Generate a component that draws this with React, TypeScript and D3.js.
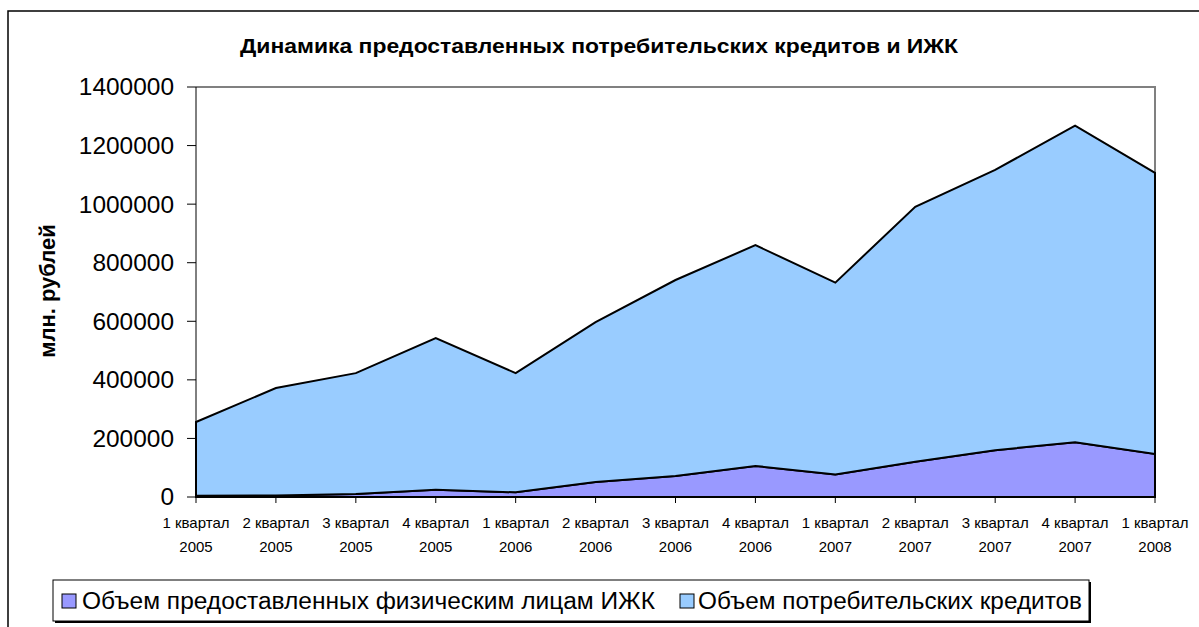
import React from "react";
import * as d3 from "d3";

const categories = [
  ["1 квартал", "2005"], ["2 квартал", "2005"], ["3 квартал", "2005"], ["4 квартал", "2005"],
  ["1 квартал", "2006"], ["2 квартал", "2006"], ["3 квартал", "2006"], ["4 квартал", "2006"],
  ["1 квартал", "2007"], ["2 квартал", "2007"], ["3 квартал", "2007"], ["4 квартал", "2007"],
  ["1 квартал", "2008"],
];
const izhk = [4000, 5000, 10000, 25000, 16000, 51000, 72000, 106000, 77000, 120000, 160000, 187000, 147000];
const consumer = [252000, 367000, 413000, 518000, 407000, 546000, 669000, 754000, 655000, 871000, 957000, 1081000, 960000];
const yTicks = [0, 200000, 400000, 600000, 800000, 1000000, 1200000, 1400000];
const seriesNames = ["Объем предоставленных физическим лицам ИЖК", "Объем потребительских кредитов"];
const seriesColors = ["#9999FF", "#99CCFF"];

const FONT = "'Liberation Sans', Arial, sans-serif";

export default function App() {
  const W = 1199, H = 627;
  const left = 196, right = 1155, top = 87, bottom = 497;
  const x = d3.scalePoint<number>().domain(d3.range(categories.length)).range([left, right]);
  const y = d3.scaleLinear().domain([0, 1400000]).range([bottom, top]);

  const rows = categories.map((_, i) => ({ i, a: izhk[i], b: consumer[i] }));
  const stack = d3.stack<any>().keys(["a", "b"])(rows);
  const area = d3.area<any>()
    .x((d: any) => x(d.data.i)!)
    .y0((d: any) => y(d[0]))
    .y1((d: any) => y(d[1]));

  const closedPath = (s: any) => area(s)! + "Z";

  return (
    <svg width={W} height={H} style={{ position: "absolute", left: 0, top: 0, display: "block" }}>
      <rect x={0} y={0} width={W} height={H} fill="#fff" />
      {/* outer chart frame */}
      <rect x={8} y={11} width={W + 20} height={H + 20} fill="none" stroke="#000" strokeWidth={1.5} />
      {/* title */}
      <text x={240} y={53} fontFamily={FONT} fontWeight="bold" fontSize={21}
        textLength={718} lengthAdjust="spacingAndGlyphs">
        Динамика предоставленных потребительских кредитов и ИЖК
      </text>
      {/* plot border top/right */}
      <path d={`M${left},${top}H${right}V${bottom}`} fill="none" stroke="#808080" strokeWidth={2} />
      {/* areas */}
      {stack.map((s, k) => (
        <path key={k} d={closedPath(s)} fill={seriesColors[k]} stroke="#000" strokeWidth={2} strokeLinejoin="miter" />
      ))}
      {/* y axis */}
      <line x1={left} x2={left} y1={top} y2={bottom} stroke="#000" strokeWidth={1} />
      {yTicks.map((t) => {
        const label = String(t);
        return (
          <g key={t}>
            <line x1={left - 9} x2={left} y1={y(t)} y2={y(t)} stroke="#000" />
            <text x={174 - (label.length * 13.6)} y={y(t)} dy="0.36em" fontFamily={FONT} fontSize={23.5}
              textLength={label.length * 13.6} lengthAdjust="spacingAndGlyphs">{label}</text>
          </g>
        );
      })}
      <text transform={`translate(55,291) rotate(-90)`} textAnchor="middle" fontFamily={FONT} fontWeight="bold" fontSize={22}>
        млн. рублей
      </text>
      {/* x axis */}
      <line x1={left} x2={right} y1={bottom} y2={bottom} stroke="#000" strokeWidth={1} />
      {categories.map((c, i) => (
        <g key={i}>
          <line x1={x(i)!} x2={x(i)!} y1={bottom} y2={bottom + 6} stroke="#000" />
          <text x={x(i)!} y={528} textAnchor="middle" fontFamily={FONT} fontSize={15}>{c[0]}</text>
          <text x={x(i)!} y={552} textAnchor="middle" fontFamily={FONT} fontSize={15}>{c[1]}</text>
        </g>
      ))}
      {/* legend */}
      <rect x={55} y={582} width={1036} height={41} fill="#000" />
      <rect x={53} y={580} width={1036} height={41} fill="#fff" stroke="#000" strokeWidth={1} />
      <rect x={62} y={594} width={14} height={14} fill={seriesColors[0]} stroke="#000" strokeWidth={1} />
      <text x={82} y={609} fontFamily={FONT} fontSize={23} textLength={573} lengthAdjust="spacingAndGlyphs">{seriesNames[0]}</text>
      <rect x={680} y={594} width={14} height={14} fill={seriesColors[1]} stroke="#000" strokeWidth={1} />
      <text x={698} y={609} fontFamily={FONT} fontSize={23} textLength={384} lengthAdjust="spacingAndGlyphs">{seriesNames[1]}</text>
    </svg>
  );
}
